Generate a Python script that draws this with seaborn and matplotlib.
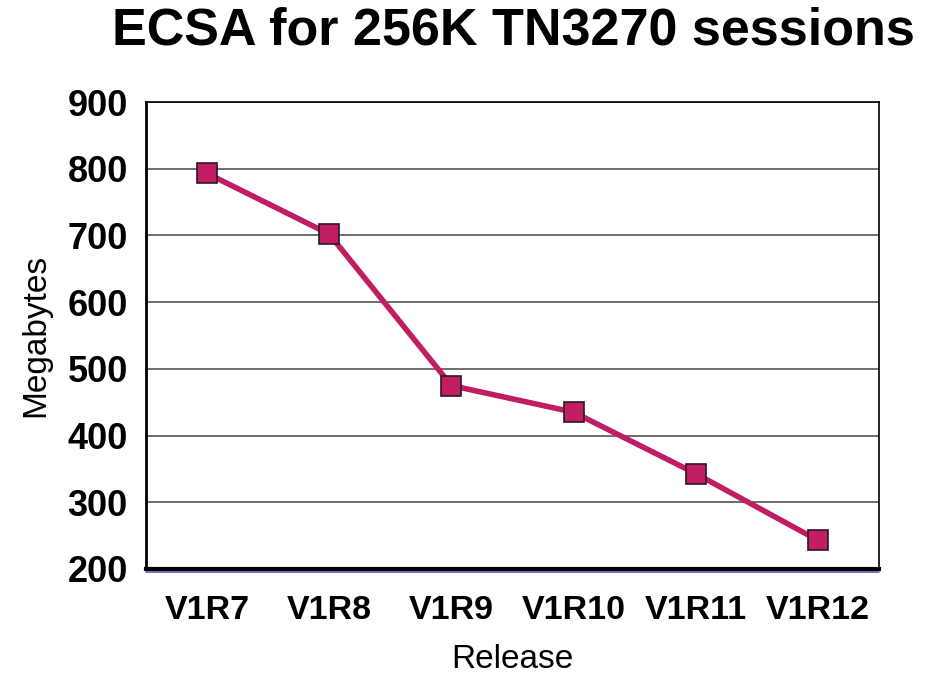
import pandas as pd
import matplotlib
matplotlib.use("Agg")
import matplotlib.pyplot as plt
from matplotlib.lines import Line2D
import seaborn as sns

# data
releases = ["V1R7", "V1R8", "V1R9", "V1R10", "V1R11", "V1R12"]
megabytes = [793, 702, 475, 435, 343, 243]
y_ticks = [200, 300, 400, 500, 600, 700, 800, 900]

df = pd.DataFrame({"Release": releases, "Megabytes": megabytes})
df["pos"] = range(len(releases))

sns.set_theme(style="white")
plt.rcParams["font.family"] = ["Liberation Sans", "DejaVu Sans"]
plt.rcParams["text.color"] = "black"
plt.rcParams["axes.labelcolor"] = "black"

fig = plt.figure(figsize=(9.29, 6.75), dpi=100)
ax = fig.add_axes([146 / 929, 1 - 569 / 675, (879 - 146) / 929, (569 - 102) / 675])

line_color = "#C21D62"
sns.lineplot(data=df, x="pos", y="Megabytes", ax=ax, sort=False,
             color=line_color, linewidth=4, marker="s", markersize=14,
             markerfacecolor=line_color, markeredgecolor="#2a1a22",
             markeredgewidth=1.2, zorder=3)

ax.set_xlim(-0.5, len(releases) - 0.5)
ax.set_ylim(200, 900)
ax.set_yticks(y_ticks)
ax.set_xticks(df["pos"])
ax.set_xticklabels(releases)
ax.yaxis.grid(True, color="#555555", linewidth=1.2)
ax.xaxis.grid(False)
ax.set_axisbelow(True)

ax.tick_params(axis="both", length=0)
ax.tick_params(axis="y", pad=13, labelsize=26)
ax.tick_params(axis="x", pad=19, labelsize=24.5)
for lab in ax.get_xticklabels() + ax.get_yticklabels():
    lab.set_fontweight("bold")
    lab.set_color("black")

for side in ["top", "right"]:
    ax.spines[side].set_color("black")
    ax.spines[side].set_linewidth(1.2)
ax.spines["left"].set_color("black")
ax.spines["left"].set_linewidth(2)
ax.spines["bottom"].set_color("black")
ax.spines["bottom"].set_linewidth(3)

# thin bluish shadow under the baseline, as in the reference
fig.add_artist(Line2D([146 / 929, 879 / 929], [1 - 572 / 675, 1 - 572 / 675],
                      color="#5a5aa8", linewidth=1.2))

ax.set_xlabel("Release", fontsize=24, labelpad=13)
ax.set_ylabel("Megabytes", fontsize=24, labelpad=12)

fig.text(513 / 929, 1 - 31 / 675, "ECSA for 256K TN3270 sessions",
         ha="center", va="center", fontsize=37.5, fontweight="bold",
         color="black")

fig.savefig("out.png", dpi=100, facecolor="white")
